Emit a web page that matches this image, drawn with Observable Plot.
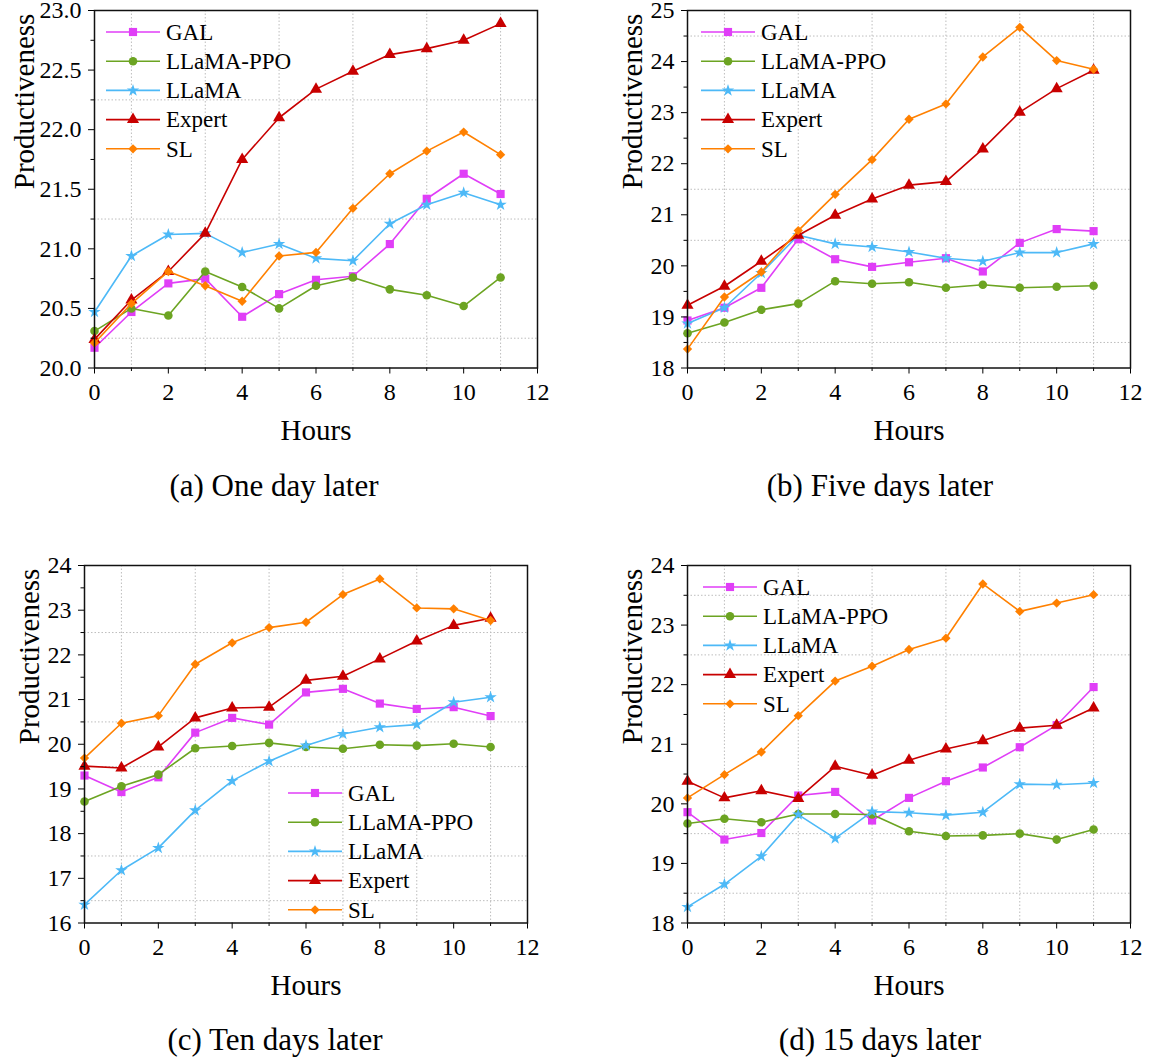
<!DOCTYPE html>
<html><head><meta charset="utf-8">
<script src="https://cdn.jsdelivr.net/npm/d3@7"></script>
<script src="https://cdn.jsdelivr.net/npm/@observablehq/plot@0.6"></script>
<style>
body{margin:0;background:#fff;}
#fig{position:relative;width:1150px;height:1059px;font-family:"Liberation Serif","Times New Roman",serif;background:#fff;}
#fig svg, #fig svg text{font-family:"Liberation Serif","Times New Roman",serif !important;}
.panel{position:absolute;}
.cap{position:absolute;font-size:31px;line-height:1;transform:translateX(-50%);white-space:nowrap;color:#000;}
</style></head><body><div id="fig"></div>
<script>
const hours = [0,1,2,3,4,5,6,7,8,9,10,11];
const seriesNames = ["GAL","LLaMA-PPO","LLaMA","Expert","SL"];
const seriesColors = ["#E03EF7","#6CA422","#4DB9F7","#C80000","#FF8000"];
const seriesSymbols = ["square","circle","star","triangle","diamond2"];
const d3Symbols = [d3.symbolSquare,d3.symbolCircle,d3.symbolStar,d3.symbolTriangle,d3.symbolDiamond2];
const symbolR = [4.6,4.3,3.9,4.5,4.2];

// (a) One day later
const a_GAL    = [20.17,20.47,20.71,20.75,20.43,20.62,20.74,20.77,21.04,21.42,21.63,21.46];
const a_PPO    = [20.31,20.50,20.44,20.81,20.68,20.50,20.69,20.76,20.66,20.61,20.52,20.76];
const a_LLaMA  = [20.47,20.94,21.12,21.13,20.97,21.04,20.92,20.90,21.21,21.37,21.47,21.37];
const a_Expert = [20.24,20.57,20.81,21.13,21.75,22.10,22.34,22.49,22.63,22.68,22.75,22.89];
const a_SL     = [20.21,20.54,20.81,20.69,20.56,20.94,20.97,21.34,21.63,21.82,21.98,21.79];
// (b) Five days later
const b_GAL    = [18.93,19.18,19.57,20.52,20.13,19.98,20.07,20.15,19.89,20.45,20.72,20.68];
const b_PPO    = [18.68,18.89,19.14,19.26,19.70,19.65,19.68,19.57,19.63,19.57,19.59,19.61];
const b_LLaMA  = [18.87,19.18,19.86,20.60,20.43,20.37,20.27,20.15,20.09,20.26,20.26,20.43];
const b_Expert = [19.23,19.60,20.09,20.60,20.99,21.31,21.58,21.65,22.29,23.01,23.47,23.83];
const b_SL     = [18.37,19.39,19.88,20.69,21.40,22.08,22.87,23.17,24.09,24.67,24.02,23.85];
// (c) Ten days later
const c_GAL    = [19.30,18.93,19.26,20.26,20.59,20.44,21.16,21.24,20.91,20.79,20.83,20.63];
const c_PPO    = [18.72,19.06,19.32,19.91,19.96,20.03,19.94,19.90,19.99,19.97,20.01,19.94];
const c_LLaMA  = [16.41,17.18,17.68,18.52,19.18,19.62,19.97,20.23,20.38,20.44,20.94,21.05];
const c_Expert = [19.51,19.47,19.94,20.59,20.81,20.83,21.43,21.52,21.91,22.31,22.66,22.82];
const c_SL     = [19.69,20.47,20.64,21.79,22.27,22.61,22.73,23.35,23.70,23.05,23.03,22.77];
// (d) 15 days later
const d_GAL    = [19.86,19.40,19.51,20.14,20.20,19.72,20.10,20.38,20.61,20.95,21.32,21.96];
const d_PPO    = [19.67,19.75,19.69,19.83,19.83,19.82,19.54,19.46,19.47,19.50,19.40,19.57];
const d_LLaMA  = [18.27,18.65,19.12,19.82,19.42,19.87,19.85,19.81,19.86,20.33,20.32,20.35];
const d_Expert = [20.38,20.10,20.22,20.09,20.63,20.48,20.73,20.92,21.06,21.27,21.32,21.61];
const d_SL     = [20.10,20.49,20.87,21.48,22.06,22.31,22.59,22.78,23.69,23.23,23.37,23.51];

const xMajor = [0,2,4,6,8,10,12];
const xMinor = [1,3,5,7,9,11];
const xGrid = [1,3,5,7,9,11];

const a_yMajor = [20.0,20.5,21.0,21.5,22.0,22.5,23.0];
const a_yMinor = [20.25,20.75,21.25,21.75,22.25,22.75];
const a_yGrid = [20.25,21.25,22.25];
const b_yMajor = [18,19,20,21,22,23,24,25];
const b_yMinor = [18.5,19.5,20.5,21.5,22.5,23.5,24.5];
const b_yGrid = [18.5,20.5,21.5,24.5];
const c_yMajor = [16,17,18,19,20,21,22,23,24];
const c_yMinor = [16.5,17.5,18.5,19.5,20.5,21.5,22.5,23.5];
const c_yGrid = [16.5,17.5,19.5,20.5,22.5];
const d_yMajor = [18,19,20,21,22,23,24];
const d_yMinor = [18.5,19.5,20.5,21.5,22.5,23.5];
const d_yGrid = [18.5,19.5,22.5,23.5];

const captions = ["(a) One day later","(b) Five days later","(c) Ten days later","(d) 15 days later"];
const FONT = '"Liberation Serif","Times New Roman",serif';

function legendMark(lx, ly) {
  return (index, scales, values, dims) => {
    const g = d3.create("svg:g");
    const x0 = dims.marginLeft + lx, y0 = dims.marginTop + ly;
    seriesNames.forEach((s, i) => {
      const y = y0 + i * 29.2;
      g.append("line").attr("x1", x0).attr("x2", x0 + 54).attr("y1", y).attr("y2", y)
        .attr("stroke", seriesColors[i]).attr("stroke-width", 1.6);
      g.append("path").attr("d", d3.symbol(d3Symbols[i], Math.PI * symbolR[i] * symbolR[i])())
        .attr("transform", `translate(${x0 + 27},${y})`).attr("fill", seriesColors[i]);
      g.append("text").attr("x", x0 + 60).attr("y", y).attr("dy", "0.34em")
        .attr("text-anchor", "start").attr("font-family", FONT)
        .attr("font-size", 23).attr("fill", "#000").text(s);
    });
    return g.node();
  };
}

function panel(cfg) {
  const vals = cfg.vals;
  const marks = [
    Plot.ruleY(cfg.yGrid, {stroke: "#bdbdbd", strokeWidth: 1, strokeDasharray: "1.5,2"}),
    Plot.ruleX(xGrid, {stroke: "#bdbdbd", strokeWidth: 1, strokeDasharray: "1.5,2"}),
  ];
  seriesNames.forEach((s, i) => {
    const data = hours.map((h, j) => ({hour: h, value: vals[i][j]}));
    marks.push(Plot.line(data, {x: "hour", y: "value", stroke: seriesColors[i], strokeWidth: 1.6}));
    marks.push(Plot.dot(data, {x: "hour", y: "value", symbol: seriesSymbols[i], fill: seriesColors[i], r: symbolR[i], stroke: "none"}));
  });
  marks.push(
    Plot.axisY(cfg.yMajor, {tickSize: 6, tickPadding: 7, tickFormat: cfg.yFmt, label: null, fontSize: 24, fontFamily: FONT}),
    Plot.axisY(cfg.yMinor, {tickSize: 3.5, tickFormat: () => "", label: null}),
    Plot.axisX(xMajor, {tickSize: 6, tickPadding: 9, tickFormat: d => String(d), label: null, fontSize: 24, fontFamily: FONT}),
    Plot.axisX(xMinor, {tickSize: 3.5, tickFormat: () => "", label: null}),
    Plot.frame({stroke: "#111", strokeWidth: 1.5}),
    Plot.text(["Productiveness"], {frameAnchor: "left", rotate: -90, dx: cfg.ylabDx, fontSize: 29, fontFamily: FONT, fill: "#000"}),
    Plot.text(["Hours"], {frameAnchor: "bottom", dy: 72, fontSize: 29, fontFamily: FONT, fill: "#000"}),
    legendMark(cfg.legX, cfg.legY)
  );
  const svg = Plot.plot({
    width: 575, height: 460,
    marginLeft: cfg.mL, marginRight: 575 - cfg.mL - 443, marginTop: 10, marginBottom: 460 - 10 - 357.5,
    style: {fontFamily: FONT, fontSize: "24px", color: "#000", background: "transparent", overflow: "visible"},
    x: {domain: [0, 12]},
    y: {domain: cfg.yDomain},
    marks
  });
  const div = document.createElement("div");
  div.className = "panel";
  div.style.left = cfg.left + "px";
  div.style.top = cfg.top + "px";
  div.appendChild(svg);
  document.getElementById("fig").appendChild(div);
}

panel({left: 0, top: 0, mL: 94, yDomain: [20, 23], yMajor: a_yMajor, yMinor: a_yMinor, yGrid: a_yGrid, yFmt: d3.format(".1f"),
  vals: [a_GAL, a_PPO, a_LLaMA, a_Expert, a_SL], ylabDx: -70, legX: 12, legY: 22});
panel({left: 575, top: 0, mL: 112, yDomain: [18, 25], yMajor: b_yMajor, yMinor: b_yMinor, yGrid: b_yGrid, yFmt: d3.format("d"),
  vals: [b_GAL, b_PPO, b_LLaMA, b_Expert, b_SL], ylabDx: -55, legX: 14, legY: 22});
panel({left: 0, top: 555, mL: 84, yDomain: [16, 24], yMajor: c_yMajor, yMinor: c_yMinor, yGrid: c_yGrid, yFmt: d3.format("d"),
  vals: [c_GAL, c_PPO, c_LLaMA, c_Expert, c_SL], ylabDx: -55, legX: 204, legY: 228});
panel({left: 575, top: 555, mL: 112, yDomain: [18, 24], yMajor: d_yMajor, yMinor: d_yMinor, yGrid: d_yGrid, yFmt: d3.format("d"),
  vals: [d_GAL, d_PPO, d_LLaMA, d_Expert, d_SL], ylabDx: -55, legX: 16, legY: 22});

const capPos = [[274, 470], [880, 470], [275, 1024], [880, 1024]];
captions.forEach((t, i) => {
  const c = document.createElement("div");
  c.className = "cap";
  c.style.left = capPos[i][0] + "px";
  c.style.top = capPos[i][1] + "px";
  c.textContent = t;
  document.getElementById("fig").appendChild(c);
});
</script></body></html>
